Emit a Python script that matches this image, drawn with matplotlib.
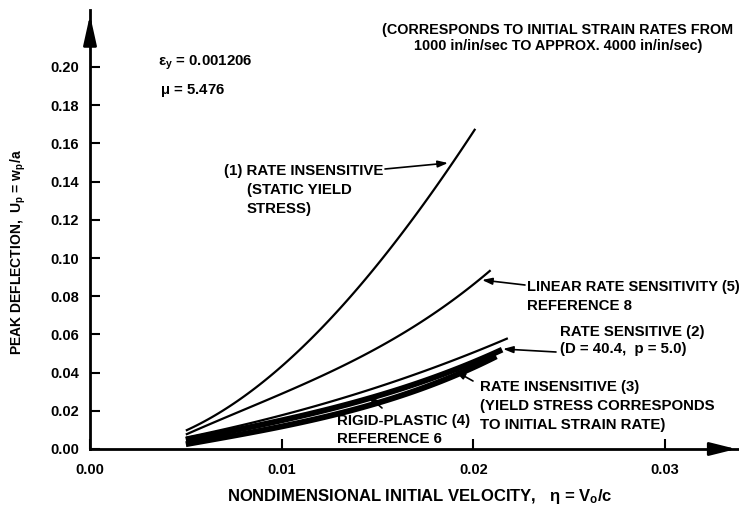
import numpy as np
import matplotlib
matplotlib.use("Agg")
import matplotlib.pyplot as plt

plt.rcParams['font.family'] = ['Liberation Sans', 'DejaVu Sans']
plt.rcParams['font.weight'] = 'bold'
plt.rcParams['mathtext.default'] = 'regular'
plt.rcParams['mathtext.fontset'] = 'custom'
plt.rcParams['mathtext.rm'] = 'Liberation Sans:bold'
plt.rcParams['mathtext.it'] = 'Liberation Sans:bold:italic'

# curves (eta, U_p)
eta_1 = [0.005, 0.0077, 0.0094, 0.0111, 0.0125, 0.0136, 0.0157, 0.0188, 0.0201]
up_1 = [0.0095, 0.0257, 0.037, 0.0555, 0.0675, 0.078, 0.106, 0.149, 0.167]

eta_5 = [0.005, 0.0075, 0.0094, 0.0121, 0.0141, 0.0158, 0.0176, 0.0209]
up_5 = [0.008, 0.017, 0.027, 0.039, 0.048, 0.057, 0.0686, 0.0937]

eta_2 = [0.005, 0.0094, 0.0129, 0.0164, 0.0218]
up_2 = [0.006, 0.016, 0.026, 0.037, 0.058]

eta_3 = [0.005, 0.010, 0.0148, 0.0215]
up_3 = [0.0048, 0.0150, 0.0272, 0.0520]

eta_4 = [0.005, 0.010, 0.0148, 0.0212]
up_4 = [0.0025, 0.0118, 0.0235, 0.0485]

xticks = [0.00, 0.01, 0.02, 0.03]
yticks = [0.00, 0.02, 0.04, 0.06, 0.08, 0.10, 0.12, 0.14, 0.16, 0.18, 0.20]


def smooth(xs, ys, n=80):
    xs = np.array(xs)
    ys = np.array(ys)
    c = np.polyfit(xs, ys, min(3, len(xs) - 1))
    xx = np.linspace(xs[0], xs[-1], n)
    return xx, np.polyval(c, xx)


fig = plt.figure(figsize=(7.39, 5.14), dpi=100)
W, H = 739, 514
ax = fig.add_axes([90 / W, 65 / H, 649 / W, 439 / H])
ax.set_xlim(0, 649 / 19167)
ax.set_ylim(0, 439 / 1910)

for xs, ys in [(eta_1, up_1), (eta_5, up_5), (eta_2, up_2)]:
    xx, yy = smooth(xs, ys)
    ax.plot(xx, yy, color='black', lw=1.6, solid_capstyle='butt')
for xs, ys in [(eta_3, up_3), (eta_4, up_4)]:
    xx, yy = smooth(xs, ys)
    ax.plot(xx, yy, color='black', lw=4.2, solid_capstyle='butt')

# axes with arrows
for s in ['top', 'right']:
    ax.spines[s].set_visible(False)
ax.spines['left'].set_linewidth(2)
ax.spines['bottom'].set_linewidth(2)
ax.annotate('', xy=(1.0, 0), xycoords='axes fraction', xytext=(0.95, 0),
            arrowprops=dict(arrowstyle='-|>,head_length=1.6,head_width=0.4',
                            color='black', lw=2))
ax.annotate('', xy=(0, 0.995), xycoords='axes fraction', xytext=(0, 0.93),
            arrowprops=dict(arrowstyle='-|>,head_length=1.8,head_width=0.4',
                            color='black', lw=2))

ax.set_xticks(xticks)
ax.set_xticklabels(['%.2f' % v for v in xticks])
ax.set_yticks(yticks)
ax.set_yticklabels(['%.2f' % v for v in yticks])
ax.tick_params(axis='both', direction='in', length=7, width=1.5, labelsize=10.5)
ax.tick_params(axis='y', pad=8)
ax.tick_params(axis='x', pad=10)


def px(x, y):
    return ((x - 90) / 19167, (449 - y) / 1910)


fs = 10.8
ax.text(*px(158, 63), r'$\epsilon_y$ = 0.001206', fontsize=fs, va='center')
ax.text(*px(160, 90), r'$\mu$ = 5.476', fontsize=fs, va='center')

ax.text(*px(558, 38), '(CORRESPONDS TO INITIAL STRAIN RATES FROM\n1000 in/in/sec TO APPROX. 4000 in/in/sec)',
        fontsize=10.4, ha='center', va='center', linespacing=1.2)

ax.text(*px(224, 171), '(1) RATE INSENSITIVE', fontsize=fs, va='center')
ax.text(*px(247, 190), '(STATIC YIELD', fontsize=fs, va='center')
ax.text(*px(247, 209), 'STRESS)', fontsize=fs, va='center')

ax.text(*px(527, 287), 'LINEAR RATE SENSITIVITY (5)', fontsize=10.5, va='center')
ax.text(*px(527, 306), 'REFERENCE 8', fontsize=fs, va='center')

ax.text(*px(560, 332), 'RATE SENSITIVE (2)', fontsize=fs, va='center')
ax.text(*px(560, 349), '(D = 40.4,  p = 5.0)', fontsize=fs, va='center')

ax.text(*px(480, 387), 'RATE INSENSITIVE (3)', fontsize=fs, va='center')
ax.text(*px(480, 406), '(YIELD STRESS CORRESPONDS', fontsize=fs, va='center')
ax.text(*px(480, 425), 'TO INITIAL STRAIN RATE)', fontsize=fs, va='center')

ax.text(*px(337, 421), 'RIGID-PLASTIC (4)', fontsize=fs, va='center')
ax.text(*px(337, 439), 'REFERENCE 6', fontsize=fs, va='center')

arrows = [((385, 169), (448, 163)),
          ((525, 285), (482, 280)),
          ((556, 352), (503, 349)),
          ((473, 381), (455, 371)),
          ((382, 408), (368, 396))]
for (x0, y0), (x1, y1) in arrows:
    ax.annotate('', xy=px(x1, y1), xytext=px(x0, y0),
                arrowprops=dict(arrowstyle='-|>,head_length=0.6,head_width=0.2',
                                color='black', lw=1.2, shrinkA=0, shrinkB=0))

fig.text(18 / W, 1 - 252 / H, 'PEAK DEFLECTION,  U$_p$ = w$_p$/a', rotation=90,
         ha='center', va='center', fontsize=10)
fig.text(420 / W, 1 - 497 / H, 'NONDIMENSIONAL INITIAL VELOCITY,   $\\eta$ = V$_o$/c',
         ha='center', va='center', fontsize=12)

fig.savefig('out.png', dpi=100)
